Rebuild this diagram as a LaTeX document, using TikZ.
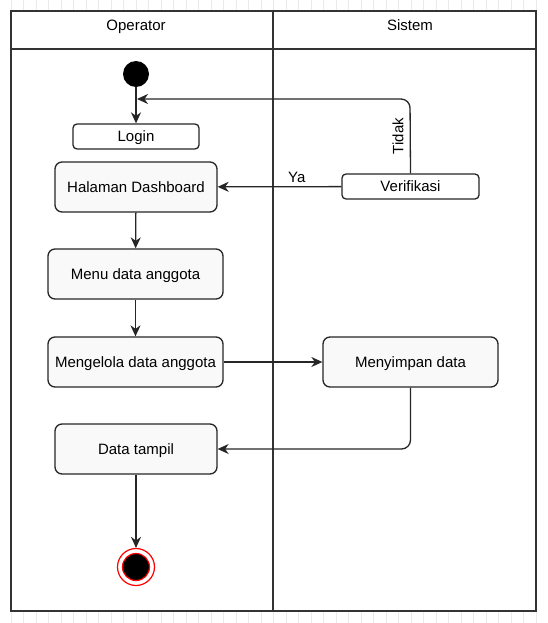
\documentclass[tikz,border=0pt]{standalone}
\usepackage{fontspec}
\setmainfont{Liberation Sans}
\usetikzlibrary{arrows.meta}
\begin{document}
\begin{tikzpicture}[x=1pt,y=-1pt,
  every node/.style={font=\fontsize{15}{17}\selectfont, text=black, text height=10.5pt, text depth=0pt},
  gridline/.style={draw=black!8, line width=0.6pt},
  lane/.style={draw=black!80, line width=1.6pt},
  act/.style={draw=black!85, fill=black!2.5, rounded corners=7pt, line width=1.3pt, inner sep=0pt, minimum height=50pt},
  small/.style={draw=black!85, fill=white, rounded corners=4pt, line width=1.3pt, inner sep=0pt, minimum height=25pt},
  flow/.style={draw=black!85, line width=1.3pt, -{Stealth[length=11pt,width=10pt,inset=3.5pt]}},
  lbl/.style={inner sep=1pt}
]
\useasboundingbox (0,0) rectangle (548,623);
% background grid
\begin{scope}[shift={(11,11)}]
  \draw[gridline, step=12.5] (-12.5,-12.5) grid (537.5,612.5);
\end{scope}
% swimlanes
\fill[white] (11,11) rectangle (536,611);
\draw[lane] (11,11) rectangle (536,611);
\draw[lane] (11,49) -- (536,49);
\draw[lane] (273,11) -- (273,611);
\node (hop) at (136,25) {Operator};
\node (hsi) at (410,25) {Sistem};
% nodes
\node[circle, fill=black, minimum size=26pt, inner sep=0pt, text height=0pt] (start) at (136,74) {};
\node[small, minimum width=126pt] (login) at (136,136.5) {Login};
\node[act, minimum width=162pt] (dash) at (136,187) {Halaman Dashboard};
\node[act, minimum width=175pt] (menu) at (135.5,274) {Menu data anggota};
\node[act, minimum width=175pt] (kelola) at (135.5,362) {Mengelola data anggota};
\node[act, minimum width=175pt] (simpan) at (410.5,362) {Menyimpan data};
\node[act, minimum width=162pt] (tampil) at (136,449) {Data tampil};
\node[small, minimum width=137pt] (verif) at (410.5,186.5) {Verifikasi};
\node[circle, draw=red, line width=1.2pt, fill=white, minimum size=37pt, inner sep=0pt, text height=0pt] (end) at (136,567) {};
\node[circle, draw=red, line width=1.2pt, fill=black, minimum size=27pt, inner sep=0pt, text height=0pt] (endin) at (136,567) {};
\coordinate (tj) at (137,99);
% connectors
\draw[flow] (start) -- (login);
\draw[flow] (dash) -- (menu);
\draw[flow] (menu) -- (kelola);
\draw[flow] (kelola) -- (simpan);
\draw[flow] (tampil) -- (end);
\draw[flow] (verif) -- node[lbl, pos=0.36, above=3pt] (ya) {Ya} (dash);
\draw[flow, rounded corners=9pt] (verif.north) -- (410,99) -- (tj);
\node[lbl, rotate=90] (tidak) at (398,136) {Tidak};
\draw[flow, rounded corners=9pt] (simpan.south) |- (tampil.east);
\end{tikzpicture}
\end{document}
